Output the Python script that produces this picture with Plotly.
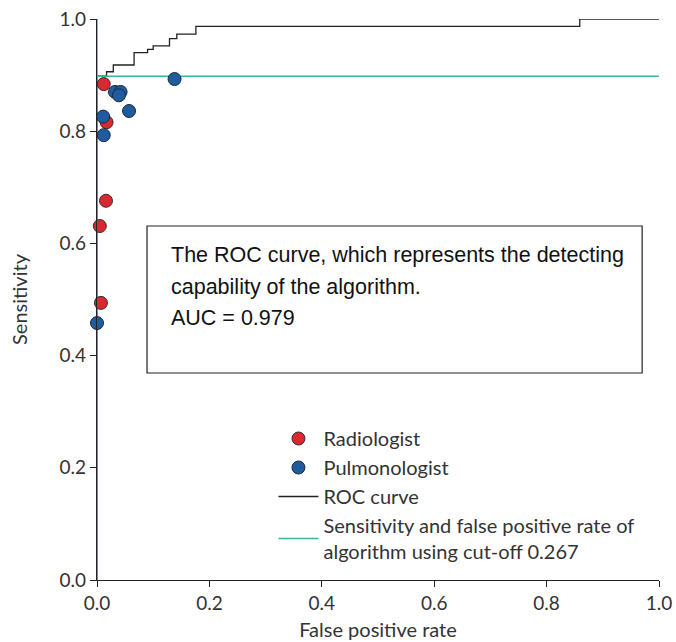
import plotly.graph_objects as go

# ROC curve (step points, drawn with hv shape)
roc_fpr = [0, 0, 0.017, 0.029, 0.066, 0.090, 0.100, 0.129, 0.142, 0.176, 0.859, 1.0]
roc_sens = [0, 0.898, 0.906, 0.918, 0.940, 0.946, 0.952, 0.965, 0.973, 0.987, 1.0, 1.0]

# Radiologist readers
rad_fpr = [0.012, 0.017, 0.016, 0.005, 0.007]
rad_sens = [0.884, 0.816, 0.676, 0.631, 0.494]

# Pulmonologist readers
pul_fpr = [0.032, 0.042, 0.039, 0.057, 0.138, 0.011, 0.012, 0.0]
pul_sens = [0.870, 0.870, 0.864, 0.836, 0.893, 0.826, 0.793, 0.458]

# Algorithm at cut-off 0.267
cut_fpr = 0.0
cut_sens = 0.898

tick_vals = [0.0, 0.2, 0.4, 0.6, 0.8, 1.0]
tick_text = ["0.0", "0.2", "0.4", "0.6", "0.8", "1.0"]

note_lines = ["The ROC curve, which represents the detecting",
              "capability of the algorithm.",
              "AUC = 0.979"]

RED = "#d9282f"
BLUE = "#1f5c9f"
GREEN = "#3db49c"
FONT = "Lato, 'Open Sans', sans-serif"
TXT = "#333333"

fig = go.Figure()

fig.add_trace(go.Scatter(
    x=roc_fpr, y=roc_sens, mode="lines", name="ROC curve", legendrank=3,
    line=dict(color="#222222", width=1.3, shape="hv")))
fig.add_trace(go.Scatter(
    x=[cut_fpr, cut_fpr, None, 0, 1], y=[0, 1, None, cut_sens, cut_sens],
    mode="lines", legendrank=4,
    name="Sensitivity and false positive rate of<br>algorithm using cut-off 0.267",
    line=dict(color=GREEN, width=1.6)))
fig.add_trace(go.Scatter(
    x=rad_fpr, y=rad_sens, mode="markers", name="Radiologist", legendrank=1,
    marker=dict(color=RED, size=13, line=dict(color="#3a2a2a", width=1)),
    cliponaxis=False))
fig.add_trace(go.Scatter(
    x=pul_fpr, y=pul_sens, mode="markers", name="Pulmonologist", legendrank=2,
    marker=dict(color=BLUE, size=13, line=dict(color="#1a2a3a", width=1)),
    cliponaxis=False))

# note box
fig.add_shape(type="rect", xref="x", yref="y", x0=0.089, x1=0.970, y0=0.369, y1=0.631,
              line=dict(color="#222222", width=1.2), fillcolor="white", layer="below")
note_y = [0.579, 0.522, 0.467]
for line, yy in zip(note_lines, note_y):
    fig.add_annotation(x=0.128, y=yy, xref="x", yref="y",
                       text=line, showarrow=False, xanchor="left", yanchor="middle",
                       font=dict(family="'Liberation Sans', Arial", size=21.5, color="#111111"))

axis_common = dict(
    range=[0, 1], showgrid=False, zeroline=False, showline=True, automargin=False,
    linecolor="#222222", linewidth=1.3, ticks="outside", ticklen=6,
    tickcolor="#222222", tickwidth=1.2, ticklabeloverflow="allow",
    tickvals=tick_vals, ticktext=tick_text,
    tickfont=dict(family=FONT, size=19, color=TXT),
)

fig.update_layout(
    width=676, height=642,
    margin=dict(l=97, r=17, t=19, b=62),
    paper_bgcolor="white", plot_bgcolor="white",
    showlegend=True,
    legend=dict(x=0.314, y=0.287, xanchor="left", yanchor="top",
                font=dict(family=FONT, size=20, color=TXT),
                bgcolor="rgba(0,0,0,0)", tracegroupgap=0, itemwidth=40,
                traceorder="normal"),
    xaxis=dict(**axis_common, title=dict(text="False positive rate",
               font=dict(family=FONT, size=20, color=TXT), standoff=10)),
    yaxis=dict(**axis_common, title=dict(text="Sensitivity",
               font=dict(family=FONT, size=20, color=TXT), standoff=26)),
)

fig.write_html("out.html", config={"displayModeBar": False},
               post_script="document.body.style.margin='0';document.body.style.overflow='hidden';")
